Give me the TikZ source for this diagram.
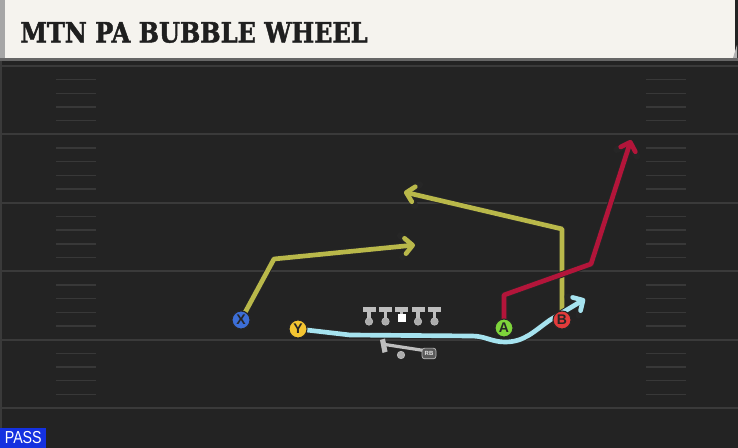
\documentclass[tikz,border=0pt]{standalone}
\usepackage{fontspec}
\setsansfont{Liberation Sans}
\newfontfamily\titlefont{DejaVu Serif Bold}[FakeStretch=0.86, FakeBold=1.6]
\newfontfamily\passfont{Liberation Sans}[FakeStretch=0.82]
\usetikzlibrary{arrows.meta}
\pgfdeclarelayer{field}
\pgfdeclarelayer{routes}
\pgfsetlayers{field,routes,main}

\definecolor{turf}{HTML}{232323}
\definecolor{chalk}{HTML}{3A3A3A}
\definecolor{paper}{HTML}{F5F3EE}
\definecolor{routeolive}{HTML}{B9B84A}
\definecolor{routered}{HTML}{B3153A}
\definecolor{routeblue}{HTML}{A6E3EF}
\definecolor{xblue}{HTML}{3C6ED6}
\definecolor{yyellow}{HTML}{F4C531}
\definecolor{agreen}{HTML}{7ED43B}
\definecolor{bred}{HTML}{E23B3B}
\definecolor{passblue}{HTML}{1431E0}
\definecolor{lineman}{HTML}{BDBDBD}

\tikzset{
  player/.style={circle, draw=black!85, line width=0.8pt, minimum size=13.5pt, inner sep=0pt,
    font=\sffamily\bfseries\fontsize{10.5}{10.5}\selectfont, text=black!85},
  route/.style={line width=3.5pt, line join=round, preaction={draw=black!85, line width=4.9pt}},
  tip/.style={-{Straight Barb[length=0pt 1.6, width=0pt 3.3, round]}},
  yard/.style={chalk, line width=1.5pt},
  hash/.style={chalk!90!turf, line width=1.1pt}
}

\begin{document}
\begin{tikzpicture}[x=0.75pt, y=-0.75pt]
    \useasboundingbox (0,0) rectangle (738,448);

    % field
    \begin{pgfonlayer}{field}
        \fill[turf] (0,0) rectangle (738,448);
        \fill[chalk] (0,58) rectangle (2,448);
        \foreach \k in {0,...,5}
            \draw[yard] (0,{66+68.4*\k}) -- (738,{66+68.4*\k});
        \foreach \k in {0,...,4}
            \foreach \j in {1,...,4} {
                \draw[hash] (56,{66+68.4*\k+13.68*\j}) -- ++(40,0);
                \draw[hash] (646,{66+68.4*\k+13.68*\j}) -- ++(40,0);
            }
        \fill[black!60] (0,58) rectangle (738,61);
        \fill[paper] (5,0) rectangle (735,58);
        \fill[gray!70] (0,0) rectangle (5,58);
        \fill[gray!60] (733,58) -- (737,45) -- (737,58) -- cycle;
    \end{pgfonlayer}

    \node[anchor=west, inner sep=0pt, text=black!88, font=\titlefont\fontsize{21}{21}\selectfont] (title) at (20,32.5) {MTN PA BUBBLE WHEEL};

    % skill players
    \node[player, fill=xblue] (X) at (241,320) {X};
    \node[player, fill=yyellow] (Y) at (298,329) {Y};
    \node[player, fill=agreen] (A) at (504,328) {A};
    \node[player, fill=bred] (B) at (562,320) {B};

    \coordinate (Xend) at (415,245);
    \coordinate (Yend) at (585,299);
    \coordinate (Aend) at (631,140);
    \coordinate (Bend) at (404,192);

    \begin{pgfonlayer}{routes}
        \draw[route, routeolive, tip] (X.center) -- (274,259) -- (Xend);
        \draw[route, routeolive, tip] (B.center) -- (562,229) -- (Bend);
        \draw[route, routered, tip] (A.center) -- (504,295) -- (591,264) -- (Aend);
        \draw[route, routeblue, tip] (Y.center) -- (350,335) -- (472,336)
            to[out=0, in=180] (505,342) to[out=0, in=215] (550,320) -- (Yend);
    \end{pgfonlayer}

    % line
    \foreach \x in {369,385.5,418,434.5} {
        \fill[lineman] (\x-6.5,307.5) rectangle (\x+6.5,312.5);
        \fill[lineman] (\x-1.8,312) rectangle (\x+1.8,319);
        \filldraw[fill=gray!65, draw=lineman, line width=0.5pt] (\x,321.5) circle (2.8pt);
    }
    \fill[lineman] (395,307.5) rectangle (408,312.5);
    \fill[lineman] (399.7,312) rectangle (403.3,315);
    \fill[white] (397.5,314) rectangle (405.5,322.5);

    % back
    \filldraw[fill=gray!65, draw=lineman, line width=0.5pt] (401,355) circle (2.8pt);
    \fill[lineman] (380,340) -- (385,338.5) -- (387.5,351.5) -- (382.5,353) -- cycle;
    \draw[lineman, line width=2.4pt] (385,344.5) -- (424,350.5);
    \node[fill=black!65, draw=lineman, line width=0.5pt, rounded corners=2pt, minimum width=10.5pt, minimum height=8pt,
        inner sep=0pt, text=black!10, font=\sffamily\bfseries\fontsize{4.5}{4.5}\selectfont] (rb) at (429,353.5) {RB};

    \node[anchor=south west, fill=passblue, text=white, inner sep=0pt, minimum width=34.5pt, minimum height=15pt,
        font=\passfont\fontsize{13}{13}\selectfont] (pass) at (0,448) {PASS};
\end{tikzpicture}
\end{document}
